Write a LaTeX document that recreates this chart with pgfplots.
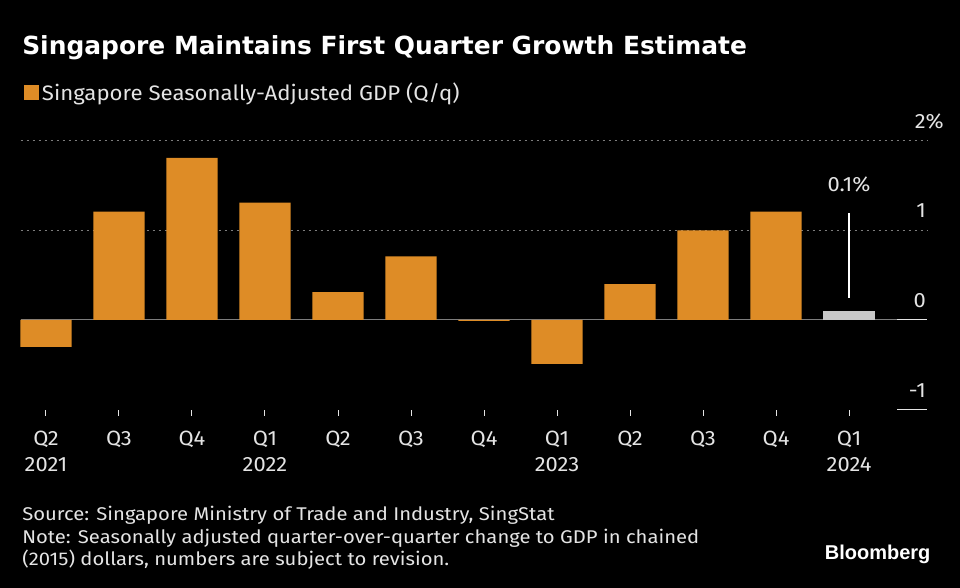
\documentclass[border=0pt]{standalone}
\usepackage{fontspec}
\setmainfont[FakeStretch=1.06]{Fira Sans}
\newfontfamily\notefont[FakeStretch=1.1]{Fira Sans}
\newfontfamily\titlefont{DejaVu Sans}
\newfontfamily\logofont{Liberation Sans}
\usepackage{pgfplots}
\pgfplotsset{compat=1.18}
\definecolor{barorange}{RGB}{222,140,38}
\definecolor{bargrey}{RGB}{200,200,200}
\definecolor{txt}{RGB}{228,228,228}
\definecolor{gridc}{RGB}{125,125,125}
\begin{document}
\begin{tikzpicture}
\fill[black] (0,0) rectangle (720pt,441pt);
\useasboundingbox (0,0) rectangle (720pt,441pt);
\node[anchor=base west, inner sep=0pt, text=white, font=\titlefont\bfseries\fontsize{18.7}{22}\selectfont] at (16.5pt,399.75pt) {Singapore Maintains First Quarter Growth Estimate};
\begin{axis}[
  at={(15.375pt,133.8pt)}, anchor=south west,
  scale only axis, width=679.875pt, height=201.6pt,
  xmin=-0.349, xmax=12.068, ymin=-1, ymax=2,
  axis x line*=bottom, axis y line*=right,
  axis line style={draw=black},
  ybar, bar width=0.7,
  xtick={0,...,11},
  xticklabels={Q2\\2021,Q3,Q4,Q1\\2022,Q2,Q3,Q4,Q1\\2023,Q2,Q3,Q4,Q1\\2024},
  xticklabel style={align=center, text=txt, font=\fontsize{15.5}{19.5}\selectfont, inner sep=0pt, anchor=north, yshift=-11pt},
  tick align=outside, major tick length=4.5pt,
  xtick style={draw=txt, line width=0.75pt},
  ytick={-1,0,1,2}, yticklabels={-1,0,1,2\rlap{\%}},
  ytick style={draw=none},
  yticklabel style={anchor=base east, inner sep=0pt, text=txt, font=\fontsize{15.5}{19.5}\selectfont, xshift=-5.25pt, yshift=9.4pt},
  legend style={at={(axis description cs:0.0039,1.1793)}, anchor=west, draw=none, fill=none, text=txt, font=\fontsize{15.7}{19.5}\selectfont, inner sep=0pt, column sep=0pt},
  legend image code/.code={\fill[#1] (0pt,-5.6pt) rectangle (11.25pt,5.6pt);},
  clip=false,
]
\draw[gridc, line width=0.75pt, dash pattern=on 1.8pt off 2.7pt] (axis cs:-0.349,2) -- (axis cs:12.068,2);
\draw[gridc, line width=0.75pt, dash pattern=on 1.8pt off 2.7pt] (axis cs:-0.349,1) -- (axis cs:12.068,1);
\draw[gridc, line width=0.75pt] (axis cs:-0.349,0) -- (axis cs:11.658,0);
\draw[txt, line width=0.75pt] (axis cs:11.658,0) -- (axis cs:12.068,0);
\draw[txt, line width=0.75pt] (axis cs:11.658,-1) -- (axis cs:12.068,-1);
\addplot[fill=barorange, draw=none, bar shift=0pt] coordinates {(0,-0.3) (1,1.21) (2,1.81) (3,1.31) (4,0.31) (5,0.71) (6,-0.01) (7,-0.49) (8,0.4) (9,1.0) (10,1.21)};
\addlegendentry{Singapore Seasonally-Adjusted GDP (Q/q)}
\addplot[fill=bargrey, draw=none, bar shift=0pt, forget plot] coordinates {(11,0.1)};
\draw[white, line width=1pt] (axis cs:11,1.194) -- (axis cs:11,0.2455);
\node[text=txt, font=\fontsize{15.5}{19.5}\selectfont] at (axis cs:11,1.518) {0.1\%};
\end{axis}
\node[anchor=base west, inner sep=0pt, align=left, text=txt, font=\notefont\fontsize{13.8}{16.9}\selectfont] at (16.5pt,16.7pt) {Source: Singapore Ministry of Trade and Industry, SingStat\\Note: Seasonally adjusted quarter-over-quarter change to GDP in chained\\(2015) dollars, numbers are subject to revision.};
\node[anchor=base east, inner sep=0pt, text=white, font=\logofont\bfseries\fontsize{15}{18}\selectfont] at (698pt,21pt) {Bloomberg};
\end{tikzpicture}
\end{document}
